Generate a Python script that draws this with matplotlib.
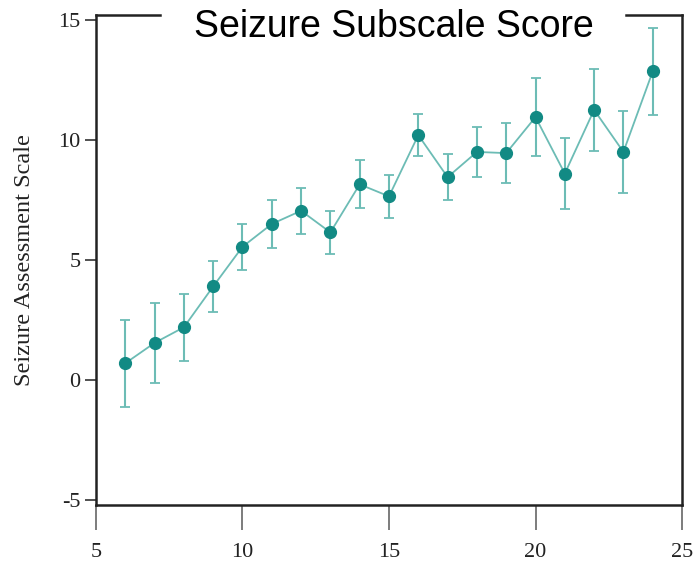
import matplotlib.pyplot as plt
import numpy as np

plt.rcParams['axes.unicode_minus'] = False

# mean score per week with its error
semanas = [6, 7, 8, 9, 10, 11, 12, 13, 14, 15, 16, 17, 18, 19, 20, 21, 22, 23, 24]
puntaje = [0.7, 1.55, 2.2, 3.9, 5.55, 6.5, 7.05, 6.15, 8.15, 7.65,
           10.2, 8.45, 9.5, 9.45, 10.95, 8.6, 11.25, 9.5, 12.85]
error = [1.8, 1.65, 1.4, 1.05, 0.95, 1.0, 0.95, 0.9, 1.0, 0.9,
         0.87, 0.95, 1.05, 1.25, 1.62, 1.47, 1.72, 1.7, 1.8]

fig = plt.figure(figsize=(6.97, 5.62), dpi=100)
ax = fig.add_axes([0.1377, 0.1014, 0.8408, 0.8719])

ax.errorbar(semanas, puntaje, yerr=error, color='#6cbcb5', lw=1.3,
            elinewidth=1.5, capsize=3.5, capthick=1.3, zorder=2)
ax.plot(semanas, puntaje, 'o', color='#128a84', ms=8.5, zorder=3)

ax.set_xlim(5, 25)
ax.set_ylim(-5.2, 15.2)
ax.set_xticks([5, 10, 15, 20, 25])
ax.set_yticks([-5, 0, 5, 10, 15])

for lado in ax.spines.values():
    lado.set_linewidth(1.8)
    lado.set_color('#222222')

# borde superior cortado por el titulo
ax.spines['top'].set_visible(False)
for x0, x1 in [(0, 0.109), (0.904, 1.0)]:
    ax.plot([x0, x1], [1, 1], transform=ax.transAxes, color='#222222',
            lw=1.8, clip_on=False, solid_capstyle='projecting')

ax.tick_params(axis='x', length=18, width=1.2, color='#666666', direction='out', pad=9)
ax.tick_params(axis='y', length=8, width=1.2, color='#333333', direction='out', pad=3)
for t in ax.get_xticklabels() + ax.get_yticklabels():
    t.set_family('Liberation Serif')
    t.set_fontsize(16)
    t.set_color('#222222')

ax.set_ylabel('Seizure Assessment Scale', family='Liberation Serif', fontsize=17.5,
              color='#222222', labelpad=17)

ax.text(0.509, 0.976, 'Seizure Subscale Score', transform=ax.transAxes,
        ha='center', va='center', fontsize=27, family='Liberation Sans', zorder=5)

plt.savefig('out.png', dpi=100)
